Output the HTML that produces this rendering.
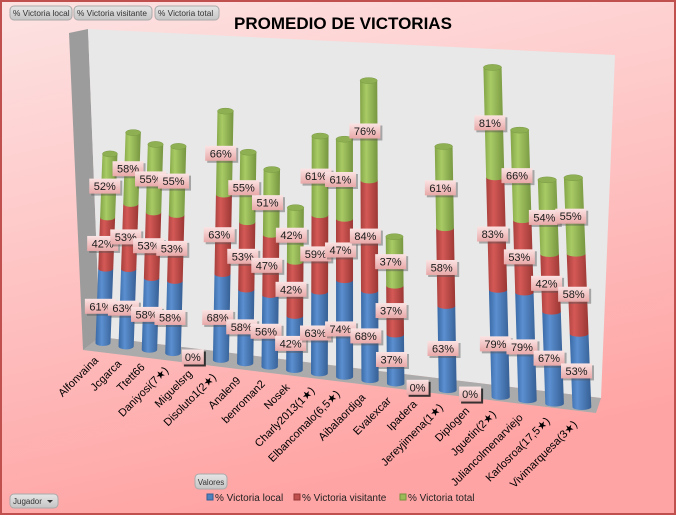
<!DOCTYPE html>
<html><head><meta charset="utf-8"><style>
html,body{margin:0;padding:0;}
body{width:676px;height:515px;overflow:hidden;font-family:"Liberation Sans",sans-serif;}
</style></head><body>
<svg id="chart" width="676" height="515" viewBox="0 0 676 515" xmlns="http://www.w3.org/2000/svg" font-family="Liberation Sans, DejaVu Sans, sans-serif">
<defs>
<linearGradient id="bg" x1="0" y1="0" x2="0.3" y2="1"><stop offset="0" stop-color="#fde3e3"/><stop offset="1" stop-color="#ffa4a4"/></linearGradient>
<linearGradient id="gB" x1="0" x2="1"><stop offset="0" stop-color="#3a6aa6"/><stop offset="0.35" stop-color="#5b8fd0"/><stop offset="1" stop-color="#365f94"/></linearGradient>
<linearGradient id="gR" x1="0" x2="1"><stop offset="0" stop-color="#a83f3c"/><stop offset="0.35" stop-color="#d45956"/><stop offset="1" stop-color="#9a3734"/></linearGradient>
<linearGradient id="gG" x1="0" x2="1"><stop offset="0" stop-color="#83a446"/><stop offset="0.35" stop-color="#a9cb65"/><stop offset="1" stop-color="#769540"/></linearGradient>
<linearGradient id="lab" x1="0" y1="0" x2="0" y2="1"><stop offset="0" stop-color="#fbe3e3"/><stop offset="1" stop-color="#e9a8a8"/></linearGradient>
<linearGradient id="btn" x1="0" y1="0" x2="0" y2="1"><stop offset="0" stop-color="#e6e6e6"/><stop offset="1" stop-color="#c4c4c4"/></linearGradient>
</defs>
<rect x="1" y="1" width="674" height="513" fill="url(#bg)" stroke="#c0504d" stroke-width="2"/>
<g font-size="8.3" fill="#333">
<rect x="10" y="6" width="62" height="14" rx="4" fill="url(#btn)" stroke="#aaa"/>
<text x="13" y="16" fill="#333">% Victoria local</text>
<rect x="74" y="6" width="78" height="14" rx="4" fill="url(#btn)" stroke="#aaa"/>
<text x="77" y="16" fill="#333">% Victoria visitante</text>
<rect x="155" y="6" width="64" height="14" rx="4" fill="url(#btn)" stroke="#aaa"/>
<text x="158" y="16" fill="#333">% Victoria total</text>
</g>
<text x="343" y="29" text-anchor="middle" font-size="17" font-weight="bold" fill="#000">PROMEDIO DE VICTORIAS</text>
<polygon points="69,33 88,29 100,337 83,350" fill="#9c9c9c"/>
<polygon points="88,29 615,55 601,398 100,337" fill="#e8e8e8"/>
<polygon points="83,350 100,337 601,398 596,413" fill="#ababab"/>
<g id="bars"></g>
<g id="xlabels" font-size="11" fill="#000"></g>
<rect x="195" y="474" width="32" height="15" rx="4" fill="url(#btn)" stroke="#aaa"/>
<text x="211" y="485" text-anchor="middle" font-size="8" fill="#333">Valores</text>
<rect x="10" y="494" width="48" height="14" rx="4" fill="url(#btn)" stroke="#aaa"/>
<text x="13" y="504" font-size="8" fill="#333">Jugador</text>
<polygon points="47,500 53,500 50,503" fill="#333"/>
<g font-size="10" fill="#222">
<rect x="207" y="494" width="6" height="6" fill="#4f81bd" stroke="#365f94"/>
<text x="215" y="501">% Victoria local</text>
<rect x="294" y="494" width="6" height="6" fill="#c0504d" stroke="#943634"/>
<text x="302" y="501">% Victoria visitante</text>
<rect x="400" y="494" width="6" height="6" fill="#9bbb59" stroke="#76923c"/>
<text x="408" y="501">% Victoria total</text>
</g>
</svg>
<script>
const players = ["Alfonvaina","Jcgarca","Ttett66","Daniyosi(7★)","Miguelsrg","Disoluto1(2★)","Analen9","benroman2","Nosek","Charly2013(1★)","Elbancomalo(6,5★)","Aibalaordiga","Evalexcar","Ipadera","Jereyjimena(1★)","Diplogen","Jguetin(2★)","Juliancolmenarviejo","Karlosroa(17,5★)","Vivimarquesa(3★)"];
const local = [61,63,58,58,0,68,58,56,42,63,74,68,37,0,63,0,79,79,67,53];
const visitante = [42,53,53,53,0,63,53,47,42,59,47,84,37,0,58,0,83,53,42,58];
const total = [52,58,55,55,0,66,55,51,42,61,61,76,37,0,61,0,81,66,54,55];

const NS = "http://www.w3.org/2000/svg";
const bars = document.getElementById('bars');
const xl = document.getElementById('xlabels');
function baseX(i){return 103 + 23*i + 0.116*i*i;}
function baseY(i){return 343 + 3.37*i;}
function scale(i){return 1.22 + 0.0085*i;}
function radius(i){return 7.5 + 0.1*i;}
function proj(i,v){
  const h = v*scale(i), bx = baseX(i);
  return [bx + (340-bx)*0.000155*h, baseY(i)-h];
}
function mk(tag,attrs,parent){const e=document.createElementNS(NS,tag);for(const k in attrs)e.setAttribute(k,attrs[k]);parent.appendChild(e);return e;}
const series=[{vals:local,fill:'url(#gB)',name:'local'},{vals:visitante,fill:'url(#gR)',name:'visitante'},{vals:total,fill:'url(#gG)',name:'total'}];
const labelLayer = [];
for(let i=0;i<players.length;i++){
  const r=radius(i), ry=3;
  let cum=0;
  const sum=local[i]+visitante[i]+total[i];
  if(sum===0){
    const [cx,cy]=proj(i,0);
    labelLayer.push([cx-4,cy,"0%",true]);
  }
  series.forEach((s,si)=>{
    const v=s.vals[i]; if(v<=0) return;
    const [x0,y0]=proj(i,cum); const [x1,y1]=proj(i,cum+v);
    const p=mk('path',{d:`M${x0-r},${y0} L${x1-r},${y1} L${x1+r},${y1} L${x0+r},${y0} A${r},${ry} 0 0 1 ${x0-r},${y0} Z`,fill:s.fill},bars);
    
    
    const [mx,my]=proj(i,cum+v/2);
    labelLayer.push([mx-4,my,v+"%",false]);
    cum+=v;
    if(si===2||(si<2&&series.slice(si+1).every(t=>t.vals[i]===0))){
      const e=mk('ellipse',{cx:x1,cy:y1,rx:r,ry:ry,fill:'#8fb052',stroke:'#7a9a44','stroke-width':0.5},bars);
      
      
    }
  });
  const t=mk('text',{x:0,y:0,'text-anchor':'end',transform:`translate(${baseX(i)-4},${baseY(i)+18}) rotate(-45)`},xl);
  t.textContent=players[i];
  
  
}
labelLayer.forEach(([x,y,txt,zero])=>{
  const g=mk('g',{},bars);
  
  
  const w=txt.length>2?31:22;
  mk('rect',{x:x-w/2+2,y:y-7+2,width:w,height:15,fill:zero?'#222':'#555',opacity:zero?0.9:0.45},g);
  mk('rect',{x:x-w/2,y:y-7,width:w,height:15,fill:'url(#lab)'},g);
  const t=mk('text',{x:x,y:y+4.5,'text-anchor':'middle','font-size':11,fill:'#1a1a1a'},g);
  t.textContent=txt;
});
</script>
</body></html>
